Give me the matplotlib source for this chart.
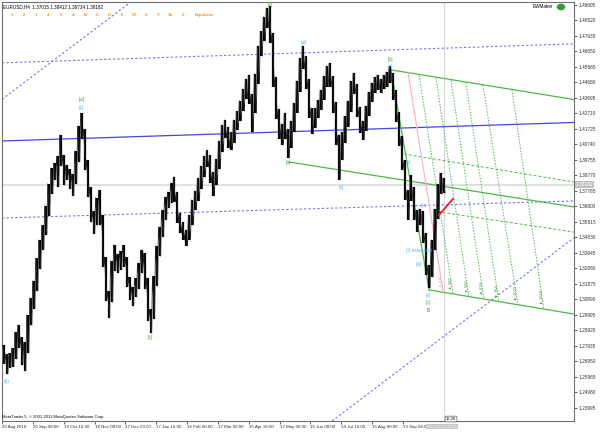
import numpy as np
import matplotlib
matplotlib.use("Agg")
import matplotlib.pyplot as plt

plt.rcParams["font.family"] = ["Liberation Sans", "DejaVu Sans"]

HIGH = [
    1.2799, 1.2742, 1.2748, 1.2780, 1.2882, 1.2926, 1.2850, 1.2818, 1.2990, 1.3098,
    1.3206, 1.3352, 1.3466, 1.3561, 1.3682, 1.3822, 1.3923, 1.3955, 1.3999, 1.4133,
    1.4006, 1.3942, 1.3917, 1.3885, 1.4031, 1.4190, 1.4272, 1.4171, 1.3974, 1.3803,
    1.3650, 1.3733, 1.3783, 1.3625, 1.3358, 1.3142, 1.3333, 1.3434, 1.3377, 1.3396,
    1.3434, 1.3358, 1.3231, 1.3168, 1.3225, 1.3320, 1.3402, 1.3383, 1.3225, 1.3028,
    1.3237, 1.3428, 1.3549, 1.3656, 1.3739, 1.3771, 1.3828, 1.3866, 1.3771, 1.3637,
    1.3580, 1.3530, 1.3625, 1.3720, 1.3777, 1.3860, 1.3936, 1.3999, 1.4037, 1.4006,
    1.3898, 1.3980, 1.4095, 1.4196, 1.4228, 1.4184, 1.4152, 1.4228, 1.4285, 1.4349,
    1.4425, 1.4488, 1.4514, 1.4393, 1.4520, 1.4698, 1.4793, 1.4882, 1.4939, 1.4952,
    1.4780, 1.4501, 1.4298, 1.4203, 1.4272, 1.4171, 1.4222, 1.4336, 1.4476, 1.4622,
    1.4698, 1.4634, 1.4488, 1.4304, 1.4304, 1.4355, 1.4418, 1.4507, 1.4571, 1.4590,
    1.4507, 1.4342, 1.4133, 1.4152, 1.4253, 1.4349, 1.4476, 1.4526, 1.4457, 1.4311,
    1.4222, 1.4317, 1.4406, 1.4463, 1.4501, 1.4514, 1.4488, 1.4514, 1.4533, 1.4571,
    1.4526, 1.4418, 1.4279, 1.4126, 1.3974, 1.3783, 1.3879, 1.3803, 1.3657, 1.3663,
    1.3650, 1.3510, 1.3307, 1.3466, 1.3663, 1.3822, 1.3891, 1.3860,
]
LOW = [
    1.2679, 1.2615, 1.2653, 1.2660, 1.2710, 1.2780, 1.2672, 1.2634, 1.2748, 1.2926,
    1.3028, 1.3142, 1.3282, 1.3402, 1.3498, 1.3618, 1.3758, 1.3847, 1.3803, 1.3936,
    1.3815, 1.3847, 1.3790, 1.3745, 1.3822, 1.3961, 1.4107, 1.3910, 1.3739, 1.3580,
    1.3504, 1.3561, 1.3561, 1.3295, 1.3079, 1.2971, 1.3072, 1.3269, 1.3256, 1.3275,
    1.3295, 1.3168, 1.3085, 1.3047, 1.3104, 1.3155, 1.3256, 1.3155, 1.2952, 1.2875,
    1.2964, 1.3174, 1.3364, 1.3485, 1.3593, 1.3669, 1.3701, 1.3707, 1.3574, 1.3510,
    1.3466, 1.3428, 1.3466, 1.3561, 1.3657, 1.3714, 1.3790, 1.3866, 1.3930, 1.3828,
    1.3745, 1.3815, 1.3917, 1.4025, 1.4114, 1.4050, 1.4037, 1.4082, 1.4164, 1.4222,
    1.4285, 1.4361, 1.4330, 1.4152, 1.4272, 1.4457, 1.4634, 1.4730, 1.4812, 1.4717,
    1.4438, 1.4234, 1.4107, 1.4069, 1.4107, 1.3987, 1.4050, 1.4152, 1.4272, 1.4406,
    1.4552, 1.4425, 1.4241, 1.4139, 1.4177, 1.4241, 1.4291, 1.4355, 1.4438, 1.4438,
    1.4272, 1.4069, 1.3847, 1.3974, 1.4082, 1.4184, 1.4279, 1.4393, 1.4247, 1.4145,
    1.4101, 1.4158, 1.4253, 1.4342, 1.4399, 1.4418, 1.4399, 1.4425, 1.4438, 1.4463,
    1.4355, 1.4215, 1.4063, 1.3911, 1.3720, 1.3593, 1.3714, 1.3593, 1.3517, 1.3561,
    1.3447, 1.3244, 1.3161, 1.3231, 1.3402, 1.3599, 1.3758, 1.3764,
]
LAST_PRICE = 1.38182
HEADER = "EURUSD,H4  1.37015 1.38412 1.36734 1.38182"

DATE_LABELS = ["20 Aug 2010", "20 Sep 08:00", "19 Oct 16:00", "18 Nov 08:00",
               "17 Dec 00:00", "17 Jan 16:00", "16 Feb 00:00", "17 Mar 00:00",
               "15 Apr 16:00", "17 May 00:00", "15 Jun 08:00", "14 Jul 16:00",
               "15 Aug 00:00", "13 Sep 08:00"]
PRICE_TICKS = [1.23995 + 0.00985 * k for k in range(27)]

# trend lines as (bar, price) pairs
BLUE_SOLID = [(0, 1.4095), (190, 1.4212)]
BLUE_DOT_UP = [(0, 1.4591), (190, 1.4711)]
BLUE_DOT_LOW = [(0, 1.3606), (190, 1.3714)]
BLUE_DOT_STEEP1 = [(0, 1.4368), (42, 1.4971)]
BLUE_DOT_STEEP2 = [(108.7, 1.2304), (190.3, 1.3479)]
GREEN_TOP = [(129.3, 1.4546), (191, 1.4356)]
GREEN_MID = [(95.3, 1.3961), (191, 1.3674)]
GREEN_BOT = [(142, 1.3149), (191, 1.2994)]
GREEN_DROP = [(129.3, 1.4546), (142, 1.3149)]
GREEN_DASH1 = [(133.7, 1.4012), (191, 1.3832)]
GREEN_DASH2 = [(143.3, 1.3650), (191, 1.3515)]
FAN_TOP_X = [138.7, 144.3, 149.3, 154.3, 160.0, 169.7]
FAN_TOP_Y = [1.4510, 1.4495, 1.4480, 1.4464, 1.4448, 1.4419]
FAN_BOT_X = [150.0, 155.3, 160.3, 165.3, 171.7, 180.3]
FAN_BOT_Y = [1.3124, 1.3105, 1.3092, 1.3073, 1.3054, 1.3028]
FAN_NAMES = ["tz_382", "tz_500", "tz_618", "tz_764", "tz_1000", "tz_1618"]
PINK_LINE = [(135, 1.4527), (146.7, 1.3136)]
RED_LINE = [(145.3, 1.3625), (150, 1.3727)]

WAVE_LABELS = [
    (1, 1.2568, "(b)", "#55aaff"), (26, 1.4355, "[w]", "#44aa44"),
    (26, 1.4310, "(c)", "#55aaff"), (49, 1.2847, "[x]", "#44aa44"),
    (89, 1.4960, "[y]", "#44aa44"), (95, 1.3955, "[a]", "#44aa44"),
    (100.3, 1.4722, "(w)", "#55aaff"), (112.7, 1.3800, "(x)", "#55aaff"),
    (129, 1.4610, "[b]", "#44aa44"), (129, 1.4565, "(v)", "#55aaff"),
    (135.3, 1.3955, "(i)", "#55aaff"), (140.3, 1.3682, "(iv)", "#55aaff"),
    (138.7, 1.3400, "(i) extension", "#55aaff"), (138.7, 1.3310, "(iii)", "#55aaff"),
    (141.7, 1.3115, "(v)", "#55aaff"), (141.7, 1.3070, "[c]", "#44aa44"),
    (141.7, 1.3020, "B", "#e03030"),
]
MENU = ["1", "2", "3", "4", "5", "A", "B", "C", "D", "E", "W", "X", "Y", "Xx", "Z", "Expulsion"]

fig = plt.figure(figsize=(6.0, 4.34), dpi=100)
ax = fig.add_axes([2 / 600, 13 / 434, 572 / 600, 419 / 434])
ax.set_xlim(-0.3, 190.4)
ax.set_ylim(1.2317, 1.4977)

bars = np.arange(len(HIGH))
ax.axhline(LAST_PRICE, color="#dcdcdc", lw=1.2, zorder=0)
ax.axvline(bars[-1], color="#d8d8d8", lw=0.8, zorder=0)


def seg(pts, **kw):
    (x1, y1), (x2, y2) = pts
    ax.plot([x1, x2], [y1, y2], **kw)


blue = "#4848d8"
bdot = "#7070f0"
green = "#4cb84c"
ax.axline(BLUE_DOT_STEEP1[0], BLUE_DOT_STEEP1[1], color=bdot, lw=0.8, ls=(0, (2, 2)))
ax.axline(BLUE_DOT_STEEP2[0], BLUE_DOT_STEEP2[1], color=bdot, lw=0.8, ls=(0, (2, 2)))
ax.axline(BLUE_DOT_UP[0], BLUE_DOT_UP[1], color=bdot, lw=0.8, ls=(0, (2, 2)))
ax.axline(BLUE_DOT_LOW[0], BLUE_DOT_LOW[1], color=bdot, lw=0.8, ls=(0, (2, 2)))
ax.axline(BLUE_SOLID[0], BLUE_SOLID[1], color=blue, lw=0.9)

for pts in (GREEN_TOP, GREEN_MID, GREEN_BOT, GREEN_DROP):
    seg(pts, color=green, lw=0.9)
for pts in (GREEN_DASH1, GREEN_DASH2):
    seg(pts, color=green, lw=0.7, ls=(0, (3, 2)))
for xt, yt, xb, yb, name in zip(FAN_TOP_X, FAN_TOP_Y, FAN_BOT_X, FAN_BOT_Y, FAN_NAMES):
    ax.plot([xt, xb], [yt, yb], color=green, lw=0.7, ls=(0, (1.5, 1.5)))
    ax.text(xb - 0.8, yb + 0.004, name, rotation=90, fontsize=2.8, color="#2f8f2f",
            ha="center", va="bottom")
seg(PINK_LINE, color="#ffb4c4", lw=0.9)
ax.text(PINK_LINE[1][0] - 0.8, PINK_LINE[1][1] + 0.004, "tz_236", rotation=90,
        fontsize=2.8, color="#ff9aae", ha="center", va="bottom")
seg(RED_LINE, color="#e02020", lw=1.3, zorder=5)

# bars plus a thin zigzag through high/low to get the dense H4 look
ax.vlines(bars, LOW, HIGH, color="black", lw=1.6, zorder=3)
zx = np.ravel(np.column_stack([bars - 0.35, bars + 0.35]))
zy = np.ravel(np.column_stack([HIGH, LOW]))
ax.plot(zx, zy, color="#222222", lw=0.6, zorder=3)

for x, y, s, c in WAVE_LABELS:
    ax.text(x, y, s, fontsize=3.4, color=c, ha="center", va="center", zorder=6)

ax.yaxis.tick_right()
ax.set_yticks(PRICE_TICKS)
ax.set_yticklabels([f"{p:.5f}" for p in PRICE_TICKS])
ax.tick_params(axis="y", labelsize=3.4, length=2, width=0.5, pad=1, colors="#303030")
xt = np.arange(len(DATE_LABELS)) * 10.3 - 0.6
ax.set_xticks(xt)
ax.set_xticklabels(DATE_LABELS)
ax.tick_params(axis="x", labelsize=3.2, length=2, width=0.5, pad=1, colors="#303030")
for lab in ax.get_xticklabels():
    lab.set_ha("left")
for s in ax.spines.values():
    s.set_color("#707070")
    s.set_linewidth(0.8)

ax.text(1.003, LAST_PRICE, "1.38182", transform=ax.get_yaxis_transform(),
        fontsize=3.4, color="white", va="center", ha="left",
        bbox=dict(boxstyle="square,pad=0.15", fc="#c0c0c0", ec="none"))

fig.text(3 / 600, 1 - 7 / 434, HEADER, fontsize=3.3, color="black", va="center")
for i, m in enumerate(MENU):
    fig.text((12 + 12.2 * i) / 600, 1 - 15 / 434, m, fontsize=3.0, color="#ff8c1a",
             va="center", ha="center" if i < 15 else "left", weight="bold")
fig.text(553 / 600, 1 - 7 / 434, "EWMaker", fontsize=3.3, color="black", va="center", ha="right")
fig.patches.append(plt.Circle((561 / 600, 1 - 7 / 434), 0.006, color="#3a9a3a",
                              transform=fig.transFigure, figure=fig))
fig.text(2 / 600, 1 - 417 / 434, "MetaTrader 5, \u00a9 2001-2011 MetaQuotes Software Corp.",
         fontsize=3.0, color="black", va="center")
fig.text(446 / 600, 1 - 419 / 434, "16:20", fontsize=3.0, color="black", va="center",
         bbox=dict(boxstyle="round,pad=0.2", fc="white", ec="#606060", lw=0.5))
fig.text(426 / 600, 1 - 426.5 / 434, "2011.09.14 16:00", fontsize=3.0, color="#f0f0f0",
         va="center", bbox=dict(boxstyle="square,pad=0.1", fc="#c8c8c8", ec="none"))

fig.savefig("out.png", dpi=100)
